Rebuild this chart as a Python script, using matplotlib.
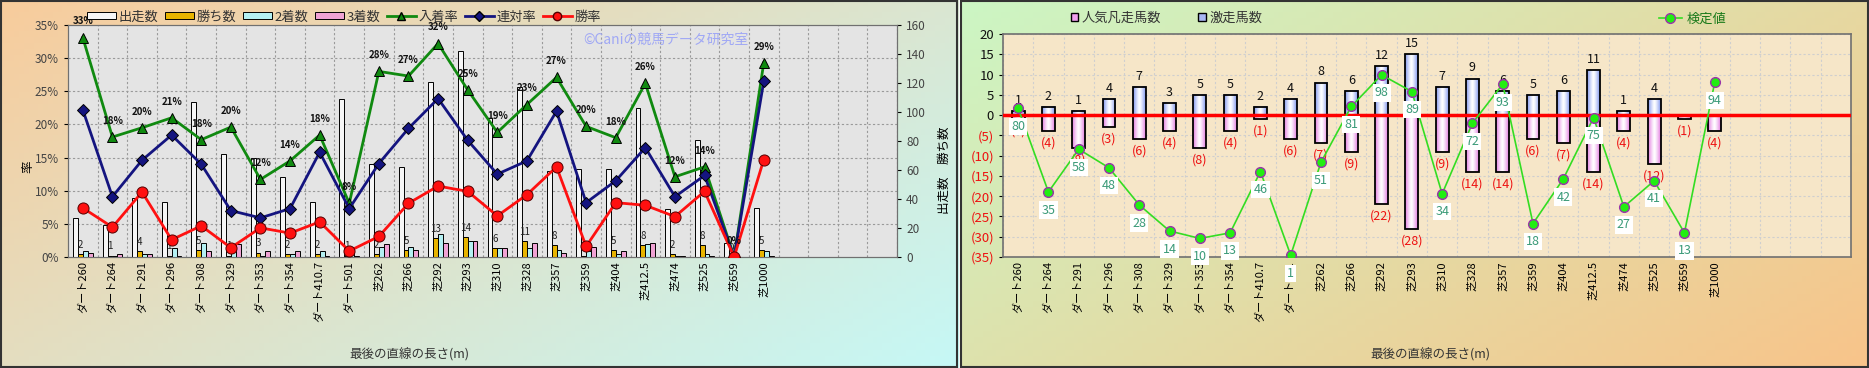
import numpy as np
import matplotlib
matplotlib.use('Agg')
import matplotlib.pyplot as plt
from matplotlib.patches import Rectangle, Patch
from matplotlib.lines import Line2D
from matplotlib.colors import to_rgb

plt.rcParams['font.family'] = ['Noto Sans CJK JP', 'DejaVu Sans']

categories = ['ダート260', 'ダート264', 'ダート291', 'ダート296', 'ダート308',
              'ダート329', 'ダート353', 'ダート354', 'ダート410.7', 'ダート501',
              '芝262', '芝266', '芝292', '芝293', '芝310', '芝328', '芝357',
              '芝359', '芝404', '芝412.5', '芝474', '芝525', '芝659', '芝1000']

# left chart: counts (right axis) and rates (left axis, %)
runs = [27, 22, 41, 38, 107, 71, 68, 55, 38, 109, 64, 62, 121, 142, 96, 117,
        59, 61, 61, 103, 33, 81, 10, 34]
wins = [2, 1, 4, 1, 5, 1, 3, 2, 2, 1, 2, 5, 13, 14, 6, 11, 8, 1, 5, 8, 2, 8, 0, 5]
seconds = [4, 1, 2, 6, 10, 4, 1, 2, 4, 7, 7, 7, 16, 11, 6, 6, 5, 4, 2, 9, 1, 2, 0, 4]
thirds = [3, 2, 2, 1, 4, 9, 4, 4, 1, 1, 9, 5, 10, 11, 6, 10, 3, 7, 4, 10, 1, 1, 0, 1]
place_rate = [33.1, 18.1, 19.5, 21.0, 17.7, 19.6, 11.7, 14.5, 18.4, 8.1, 28.0,
              27.3, 32.2, 25.2, 18.8, 23.0, 27.1, 19.7, 18.0, 26.2, 12.1, 13.6,
              0.0, 29.3]
quinella_rate = [22.2, 9.1, 14.6, 18.4, 14.0, 7.0, 5.9, 7.3, 15.8, 7.3, 14.1,
                 19.4, 23.9, 17.6, 12.5, 14.5, 22.0, 8.2, 11.5, 16.5, 9.1, 12.3,
                 0.0, 26.5]
win_rate = [7.4, 4.5, 9.8, 2.6, 4.7, 1.4, 4.4, 3.6, 5.3, 0.9, 3.1, 8.1, 10.7,
            9.9, 6.2, 9.4, 13.6, 1.6, 8.2, 7.8, 6.1, 9.9, 0.0, 14.7]

# right chart
upset_count = [1, 2, 1, 4, 7, 3, 5, 5, 2, 4, 8, 6, 12, 15, 7, 9, 6, 5, 6, 11, 1, 4, 0, 0]
flop_count = [1, 4, 8, 3, 6, 4, 8, 4, 1, 6, 7, 9, 22, 28, 9, 14, 14, 6, 7, 14, 4, 12, 1, 4]
test_value = [80, 35, 58, 48, 28, 14, 10, 13, 46, 1, 51, 81, 98, 89, 34, 72, 93,
              18, 42, 75, 27, 41, 13, 94]

n_slots = 28
W, H = 1869, 368
fig = plt.figure(figsize=(W / 100, H / 100), dpi=100)


def fx(px):
    return px / W


def fy(py):
    return 1 - py / H


def gradient_bg(x0, x1, c_tl, c_br):
    ax = fig.add_axes([fx(x0), 0, fx(x1 - x0), 1], zorder=-10)
    gx, gy = np.meshgrid(np.linspace(0, 1, 200), np.linspace(0, 1, 60))
    t = (gx * 0.6 + gy * 0.4)[..., None]
    img = (1 - t) * np.array(to_rgb(c_tl)) + t * np.array(to_rgb(c_br))
    ax.imshow(img, aspect='auto', extent=(0, 1, 0, 1), origin='upper')
    ax.axis('off')


gradient_bg(0, 958, '#f8cc9c', '#c6f8f6')
gradient_bg(960, 1869, '#ccf6c4', '#f8c48a')
for x0, x1 in [(1, 957), (961, 1868)]:
    fig.patches.append(Rectangle((fx(x0), 0.003), fx(x1 - x0), 0.994,
                                 transform=fig.transFigure, fill=False,
                                 ec='#333333', lw=1.5))

x = np.arange(len(categories))

# ---------------- left chart ----------------
ax1 = fig.add_axes([fx(68), fy(257), fx(829), 232 / H])
ax1b = ax1.twinx()
ax1.set_zorder(ax1b.get_zorder() + 1)
ax1.patch.set_visible(False)
ax1b.patch.set_visible(True)
ax1b.patch.set_facecolor('#e4e4e4')

w = 0.165
bar_specs = [(runs, '#f6f6f6', '出走数'), (wins, '#e8b400', '勝ち数'),
             (seconds, '#b4f0f2', '2着数'), (thirds, '#f0a2d4', '3着数')]
for k, (vals, col, lab) in enumerate(bar_specs):
    ax1b.bar(x + (k - 1.5) * w, vals, w, color=col, edgecolor='black', lw=0.7,
             zorder=3)
for xi, v in zip(x, wins):
    ax1b.annotate(str(v), (xi - 0.5 * w, v), xytext=(0, 3),
                  textcoords='offset points', ha='center', va='bottom',
                  fontsize=7, color='#222222', zorder=4)

for k in range(1, 7):
    ax1b.axhline(k * 160 / 7, color='#9a9a9a', lw=0.8, ls=(0, (2, 2)), zorder=1)
for k in range(n_slots):
    ax1b.axvline(k + 0.5, color='#9a9a9a', lw=0.8, ls=(0, (2, 2)), zorder=1)

ax1.plot(x, place_rate, color='#108a10', lw=2, marker='^', ms=7,
         mfc='#108a10', mec='black', mew=0.7, zorder=5)
ax1.plot(x, quinella_rate, color='#14147f', lw=2, marker='D', ms=6.5,
         mfc='#14147f', mec='black', mew=0.7, zorder=6)
ax1.plot(x, win_rate, color='#ff1010', lw=2, marker='o', ms=8,
         mfc='#ff1010', mec='#550000', mew=0.7, zorder=7)
for xi, v in zip(x, place_rate):
    ax1.annotate(f'{v:.0f}%', (xi, v), xytext=(0, 8), textcoords='offset points',
                 ha='center', va='bottom', fontsize=7, fontweight='bold',
                 color='#111111', zorder=8)

ax1.text(0.621, 0.935, '©Caniの競馬データ研究室', transform=ax1.transAxes,
         color='#a0a8f5', fontsize=10, ha='left', va='center')

ax1.set_xlim(-0.5, n_slots - 0.5)
ax1.set_ylim(0, 35)
ax1b.set_ylim(0, 160)
ax1.set_yticks(range(0, 36, 5))
ax1.set_yticklabels([f'{v}%' for v in range(0, 36, 5)])
ax1b.set_yticks(range(0, 161, 20))
ax1.set_xticks(x)
ax1.set_xticklabels(categories, rotation=90, fontsize=8)
ax1.tick_params(axis='x', length=0, pad=3)
ax1.tick_params(axis='y', labelsize=8.5, labelcolor='#444444', length=3)
ax1b.tick_params(axis='y', labelsize=8.5, labelcolor='#444444', length=3)
for sp in list(ax1.spines.values()) + list(ax1b.spines.values()):
    sp.set_color('#707070')

handles = [Patch(fc=c, ec='black', lw=0.7) for _, c, _ in bar_specs]
handles += [Line2D([], [], color='#108a10', lw=2, marker='^', ms=6, mfc='#108a10', mec='black'),
            Line2D([], [], color='#14147f', lw=2, marker='D', ms=5, mfc='#14147f', mec='black'),
            Line2D([], [], color='#ff1010', lw=2, marker='o', ms=6, mfc='#ff1010', mec='#550000')]
labels = [b[2] for b in bar_specs] + ['入着率', '連対率', '勝率']
fig.legend(handles, labels, loc='center left', bbox_to_anchor=(fx(80), fy(17)),
           ncol=7, frameon=False, fontsize=9.5, handlelength=2.2, handleheight=0.45,
           columnspacing=0.5, handletextpad=0.2, borderpad=0, labelcolor='#333333')

fig.text(fx(28), fy(167), '率', rotation=90, ha='center', va='center', fontsize=9)
fig.text(fx(944), fy(170), '出走数　勝ち数', rotation=90, ha='center', va='center',
         fontsize=9)
fig.text(fx(409), fy(355), '最後の直線の長さ(m)', ha='center', va='center',
         fontsize=9, color='#333333')

# ---------------- right chart ----------------
ax2 = fig.add_axes([fx(1003), fy(257), fx(848), 223 / H])
ax2.set_facecolor('#f6e6c8')


def grad_bar(ax, xc, y0, y1, width, edge_col):
    t = np.abs(np.linspace(-1, 1, 40))[None, :, None] ** 1.3
    img = (1 - t) * np.array([1.0, 1.0, 1.0]) + t * np.array(to_rgb(edge_col))
    ax.imshow(img, extent=(xc - width / 2, xc + width / 2, y0, y1),
              aspect='auto', zorder=2, interpolation='bilinear')
    ax.add_patch(Rectangle((xc - width / 2, y0), width, y1 - y0, fill=False,
                           ec='black', lw=1.3, zorder=2.5))


bw = 0.42
for xi, up, fl in zip(x, upset_count, flop_count):
    if up > 0:
        grad_bar(ax2, xi, 0, up, bw, '#7f95ee')
        ax2.annotate(str(up), (xi, up), xytext=(0, 3), textcoords='offset points',
                     ha='center', va='bottom', fontsize=9, color='#111111')
    grad_bar(ax2, xi, -fl, 0, bw, '#e27ae0')
    ax2.annotate(f'({fl})', (xi, -fl), xytext=(0, -4), textcoords='offset points',
                 ha='center', va='top', fontsize=9, color='#ee1111')

ax2.axhline(0, color='#ff0000', lw=2.5, zorder=3)
ax2.set_xlim(-0.5, n_slots - 0.5)
ax2.set_ylim(-35, 20)
ax2.set_yticks(range(-35, 21, 5))
ax2.set_yticklabels([str(v) if v >= 0 else f'({-v})' for v in range(-35, 21, 5)])
for lab, v in zip(ax2.get_yticklabels(), range(-35, 21, 5)):
    lab.set_color('#111111' if v >= 0 else '#ee1111')
ax2.set_xticks(x)
ax2.set_xticklabels(categories, rotation=90, fontsize=8)
ax2.set_xticks(np.arange(-0.5, n_slots, 1), minor=True)
ax2.tick_params(axis='x', which='both', length=0, pad=3)
ax2.tick_params(axis='y', labelsize=9.5, length=3)
ax2.grid(which='minor', axis='x', color='#cfcfcf', lw=0.8, ls=(0, (2, 2)))
ax2.grid(which='major', axis='y', color='#cfcfcf', lw=0.8, ls=(0, (2, 2)))
ax2.set_axisbelow(True)
for sp in ax2.spines.values():
    sp.set_color('#707070')
    sp.set_linewidth(1.2)

ax2b = ax2.twinx()
ax2b.set_ylim(0, 120)
ax2b.set_yticks([])
ax2b.plot(x, test_value, color='#33dd22', lw=1.2, marker='o', ms=7,
          mfc='#22ee11', mec='#9933aa', mew=1, zorder=5)
for xi, v in zip(x, test_value):
    ax2b.annotate(str(v), (xi, v), xytext=(0, -13), textcoords='offset points',
                  ha='center', va='center', fontsize=9, color='#3a9a78',
                  bbox=dict(fc='white', ec='none', pad=1.5), zorder=6)
for sp in ax2b.spines.values():
    sp.set_visible(False)

fig.legend([Patch(fc='#f0a0ee', ec='black', lw=1), Patch(fc='#a8b8f4', ec='black', lw=1)],
           ['人気凡走馬数', '激走馬数'], loc='center left',
           bbox_to_anchor=(fx(1064), fy(18)), ncol=2, frameon=False, fontsize=9.5,
           handlelength=0.55, handleheight=0.55, columnspacing=2.8,
           handletextpad=0.3, borderpad=0, labelcolor='#333333')
fig.legend([Line2D([], [], color='#33dd22', lw=1.2, marker='o', ms=7,
                   mfc='#22ee11', mec='#9933aa')], ['検定値'], loc='center left',
           bbox_to_anchor=(fx(1652), fy(19)), frameon=False, fontsize=9.5,
           handlelength=1.8, handletextpad=0.3, borderpad=0, labelcolor='#1a7a1a')

fig.text(fx(1430), fy(355), '最後の直線の長さ(m)', ha='center', va='center',
         fontsize=9, color='#333333')

fig.savefig('out.png', dpi=100)
